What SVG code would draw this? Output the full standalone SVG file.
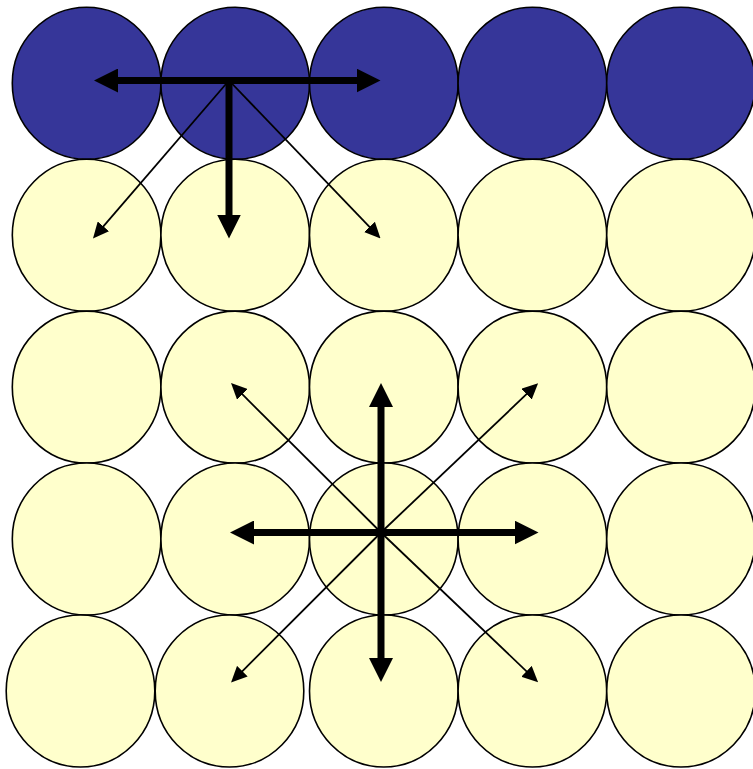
<svg xmlns="http://www.w3.org/2000/svg" width="753" height="769" viewBox="0 0 753 769">
<style>
.b{fill:#363699;stroke:#000;stroke-width:1.6}
.y{fill:#FFFFCC;stroke:#000;stroke-width:1.6}
.thick{stroke:#000;stroke-width:7;fill:none;marker-end:url(#ah)}
.thin{stroke:#000;stroke-width:1.8;fill:none;marker-end:url(#as)}
</style>
<defs>
<marker id="ah" markerUnits="userSpaceOnUse" markerWidth="24" markerHeight="24" refX="12" refY="12" orient="auto"><path d="M0,0 L24,12 L0,24 z" fill="#000"/></marker>
<marker id="as" markerUnits="userSpaceOnUse" markerWidth="16" markerHeight="15" refX="8" refY="7.5" orient="auto"><path d="M0,0 L16,7.5 L0,15 z" fill="#000"/></marker>
</defs>
<g id="r1c1"><ellipse class="b" cx="86.6" cy="83.3" rx="74.3" ry="76"/></g>
<g id="r1c2"><ellipse class="b" cx="235.2" cy="83.3" rx="74.3" ry="76"/></g>
<g id="r1c3"><ellipse class="b" cx="383.8" cy="83.3" rx="74.3" ry="76"/></g>
<g id="r1c4"><ellipse class="b" cx="532.4" cy="83.3" rx="74.3" ry="76"/></g>
<g id="r1c5"><ellipse class="b" cx="681" cy="83.3" rx="74.3" ry="76"/></g>
<g id="r2c1"><ellipse class="y" cx="86.6" cy="235.2" rx="74.3" ry="76"/></g>
<g id="r2c2"><ellipse class="y" cx="235.2" cy="235.2" rx="74.3" ry="76"/></g>
<g id="r2c3"><ellipse class="y" cx="383.8" cy="235.2" rx="74.3" ry="76"/></g>
<g id="r2c4"><ellipse class="y" cx="532.4" cy="235.2" rx="74.3" ry="76"/></g>
<g id="r2c5"><ellipse class="y" cx="681" cy="235.2" rx="74.3" ry="76"/></g>
<g id="r3c1"><ellipse class="y" cx="86.6" cy="387.1" rx="74.3" ry="76"/></g>
<g id="r3c2"><ellipse class="y" cx="235.2" cy="387.1" rx="74.3" ry="76"/></g>
<g id="r3c3"><ellipse class="y" cx="383.8" cy="387.1" rx="74.3" ry="76"/></g>
<g id="r3c4"><ellipse class="y" cx="532.4" cy="387.1" rx="74.3" ry="76"/></g>
<g id="r3c5"><ellipse class="y" cx="681" cy="387.1" rx="74.3" ry="76"/></g>
<g id="r4c1"><ellipse class="y" cx="86.6" cy="539" rx="74.3" ry="76"/></g>
<g id="r4c2"><ellipse class="y" cx="235.2" cy="539" rx="74.3" ry="76"/></g>
<g id="r4c3"><ellipse class="y" cx="383.8" cy="539" rx="74.3" ry="76"/></g>
<g id="r4c4"><ellipse class="y" cx="532.4" cy="539" rx="74.3" ry="76"/></g>
<g id="r4c5"><ellipse class="y" cx="681" cy="539" rx="74.3" ry="76"/></g>
<g id="r5c1"><ellipse class="y" cx="80.5" cy="691" rx="74.3" ry="76"/></g>
<g id="r5c2"><ellipse class="y" cx="229.5" cy="691" rx="74.3" ry="76"/></g>
<g id="r5c3"><ellipse class="y" cx="383.8" cy="691" rx="74.3" ry="76"/></g>
<g id="r5c4"><ellipse class="y" cx="532.4" cy="691" rx="74.3" ry="76"/></g>
<g id="r5c5"><ellipse class="y" cx="681" cy="691" rx="74.3" ry="76"/></g>
<g id="connectors">
<line class="thin" x1="229" y1="80.5" x2="98.2" y2="232.4"/>
<line class="thin" x1="229" y1="80.5" x2="375" y2="232.7"/>
<line class="thick" x1="229" y1="80.5" x2="106" y2="80.5"/>
<line class="thick" x1="229" y1="80.5" x2="368.5" y2="80.5"/>
<line class="thick" x1="229" y1="80.5" x2="229" y2="226.5"/>
<line class="thin" x1="381" y1="532.5" x2="236.7" y2="388.7"/>
<line class="thin" x1="381" y1="532.5" x2="532.3" y2="388.7"/>
<line class="thin" x1="381" y1="532.5" x2="236.7" y2="676.8"/>
<line class="thin" x1="381" y1="532.5" x2="532.3" y2="676.8"/>
<line class="thick" x1="381" y1="532.5" x2="381" y2="395"/>
<line class="thick" x1="381" y1="532.5" x2="381" y2="670"/>
<line class="thick" x1="381" y1="532.5" x2="242" y2="532.5"/>
<line class="thick" x1="381" y1="532.5" x2="526.5" y2="532.5"/>
</g>
</svg>
